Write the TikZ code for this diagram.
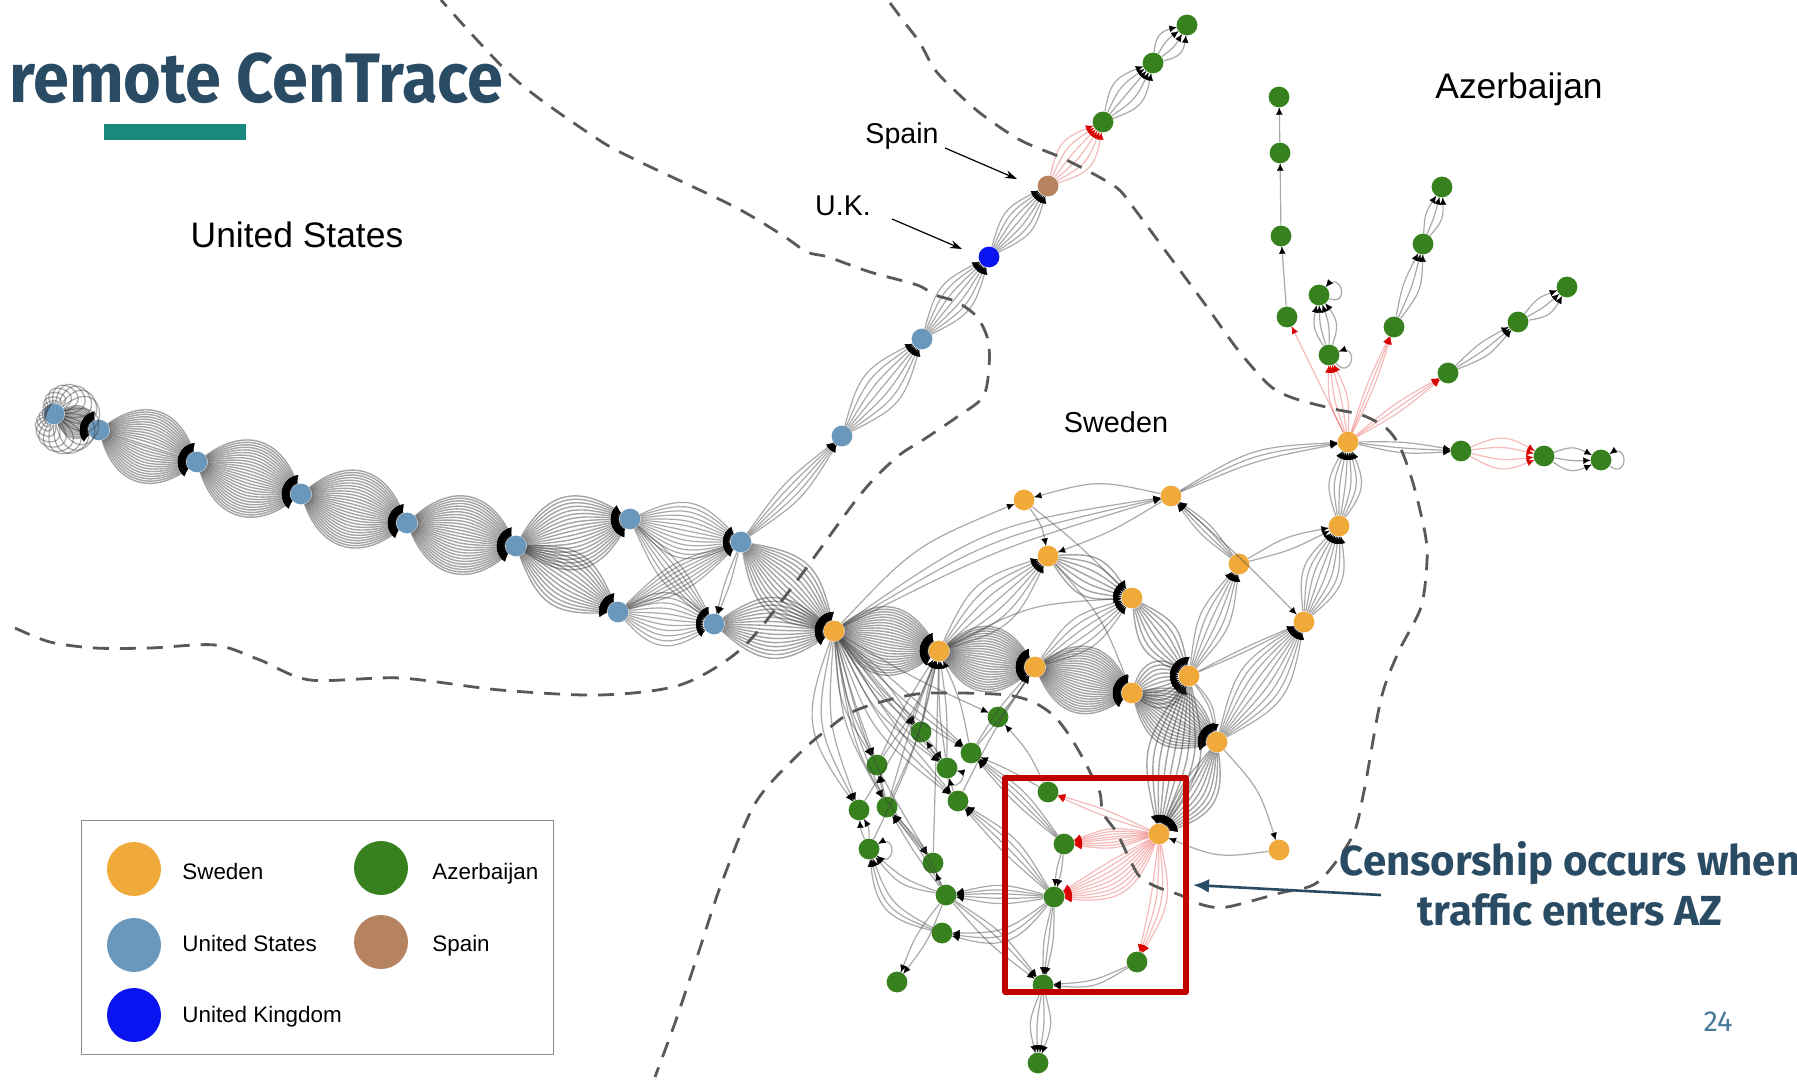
\documentclass[tikz,border=0pt]{standalone}
\usepackage{fontspec}
\usepackage{tikz}
\usetikzlibrary{arrows.meta}
\setmainfont{Liberation Sans}
\newfontfamily\slidefont[FakeStretch=0.925]{Fira Sans}
\newfontfamily\calloutfont{Fira Sans}
\definecolor{slideblue}{HTML}{2A4B64}
\definecolor{slideteal}{HTML}{1A8A7E}
\definecolor{boxred}{HTML}{C00000}
\definecolor{swecol}{HTML}{F0A93B}
\definecolor{usacol}{HTML}{6A97BC}
\definecolor{azecol}{HTML}{37821F}
\definecolor{ukncol}{HTML}{0A14F0}
\definecolor{espcol}{HTML}{B5835F}
\definecolor{pagecol}{HTML}{4A7A9A}
\tikzset{
	vertex/.style={circle,inner sep=0pt,minimum size=10.4pt},
	swe/.style={vertex,fill=swecol},
	usa/.style={vertex,fill=usacol},
	aze/.style={vertex,fill=azecol},
	ukn/.style={vertex,fill=ukncol},
	esp/.style={vertex,fill=espcol},
	gray edge/.style={draw=black!75,opacity=.45,line width=.6pt,looseness=1.3},
	dense edge/.style={draw=black!85,opacity=.42,line width=.7pt,looseness=1.3},
	red edge/.style={draw=red!85!black,opacity=.27,line width=.6pt,looseness=1.3},
	gray tip/.style={draw=black,line width=.1pt,dash pattern=on 0pt off 2000pt,looseness=1.3,-{Latex[length=3.5pt,width=3.2pt]}},
	dense tip/.style={draw=black,line width=.1pt,dash pattern=on 0pt off 2000pt,looseness=1.3,-{Latex[length=4pt,width=4pt]}},
	red tip/.style={draw=red!85!black,line width=.1pt,dash pattern=on 0pt off 2000pt,looseness=1.3,-{Latex[length=3.5pt,width=3.2pt]}},
	border/.style={draw=black!65,line width=1.4pt,dash pattern=on 8pt off 5.5pt},
	legendbox/.style={draw=black!45,line width=.5pt},
	legendtext/.style={anchor=base west,inner sep=0pt,font=\fontsize{11.2pt}{14pt}\selectfont},
	pointer/.style={draw=black,line width=.6pt,-{Stealth[length=6pt,width=4pt]}}
}
\newcommand{\bundle}[4][gray]{%
	\foreach \b in {#4} {
		\draw[#1 edge] (#2) to[bend left=\b] (#3);
		\draw[#1 tip] (#2) to[bend left=\b] (#3);
	}
}
\newcommand{\selfloop}[3]{%
	\draw[gray edge] (#1) .. controls +(#2-35:#3pt) and +(#2+35:#3pt) .. (#1);
	\draw[gray tip] (#1) .. controls +(#2-35:#3pt) and +(#2+35:#3pt) .. (#1);
}
\begin{document}
\begin{tikzpicture}[x=.5pt,y=-.5pt]

	\useasboundingbox (0,0) rectangle (1797,1080);

	\node[usa] (u1) at (54,414) {};
	\node[usa] (u2) at (99,430) {};
	\node[usa] (u3) at (197,462) {};
	\node[usa] (u4) at (301,494) {};
	\node[usa] (u5) at (407,523) {};
	\node[usa] (u6) at (516,546) {};
	\node[usa] (u7) at (630,519) {};
	\node[usa] (u8) at (618,612) {};
	\node[usa] (u9) at (741,542) {};
	\node[usa] (u10) at (714,624) {};
	\node[usa] (u11) at (842,436) {};
	\node[usa] (u12) at (922,339) {};
	\node[ukn] (uk) at (989,257) {};
	\node[esp] (es) at (1048,186) {};
	\node[aze] (g1) at (1103,122) {};
	\node[aze] (g2) at (1153,63) {};
	\node[aze] (g3) at (1187,25) {};

	\node[swe] (s1) at (834,631) {};
	\node[swe] (s2) at (939,651) {};
	\node[swe] (s3) at (1035,667) {};
	\node[swe] (s4) at (1132,693) {};
	\node[swe] (s5) at (1189,676) {};
	\node[swe] (s6) at (1217,742) {};
	\node[swe] (s7) at (1159,834) {};
	\node[swe] (s8) at (1279,850) {};
	\node[swe] (s9) at (1024,500) {};
	\node[swe] (s10) at (1171,496) {};
	\node[swe] (s11) at (1048,556) {};
	\node[swe] (s12) at (1132,598) {};
	\node[swe] (s13) at (1239,564) {};
	\node[swe] (s14) at (1304,622) {};
	\node[swe] (s15) at (1339,526) {};
	\node[swe] (s16) at (1348,442) {};

	\node[aze] (a1) at (1279,97) {};
	\node[aze] (a2) at (1280,153) {};
	\node[aze] (a3) at (1281,236) {};
	\node[aze] (a4) at (1287,317) {};
	\node[aze] (a5) at (1319,295) {};
	\node[aze] (a6) at (1329,355) {};
	\node[aze] (a7) at (1394,327) {};
	\node[aze] (a8) at (1423,244) {};
	\node[aze] (a9) at (1442,187) {};
	\node[aze] (a10) at (1448,373) {};
	\node[aze] (a11) at (1518,322) {};
	\node[aze] (a12) at (1567,287) {};
	\node[aze] (a13) at (1461,451) {};
	\node[aze] (a14) at (1544,456) {};
	\node[aze] (a15) at (1601,460) {};

	\node[aze] (b1) at (998,717) {};
	\node[aze] (b2) at (921,732) {};
	\node[aze] (b3) at (971,753) {};
	\node[aze] (b4) at (947,768) {};
	\node[aze] (b5) at (877,765) {};
	\node[aze] (b6) at (958,801) {};
	\node[aze] (b7) at (859,810) {};
	\node[aze] (b8) at (887,807) {};
	\node[aze] (b9) at (869,849) {};
	\node[aze] (b10) at (1048,792) {};
	\node[aze] (b11) at (1064,844) {};
	\node[aze] (b12) at (933,863) {};
	\node[aze] (b13) at (946,895) {};
	\node[aze] (b14) at (1054,897) {};
	\node[aze] (b15) at (942,933) {};
	\node[aze] (b16) at (897,982) {};
	\node[aze] (b17) at (1137,962) {};
	\node[aze] (b18) at (1043,985) {};
	\node[aze] (b19) at (1038,1063) {};

	\foreach \a in {0,14,...,346} {
		\pgfmathsetmacro\d{.87*(25+20*cos(\a+22))}
		\draw[gray edge] (u1) .. controls +(\a-40:\d pt) and +(\a+40:\d pt) .. (u1);
	}

	\bundle[dense]{u1}{u2}{-45,-40,...,45}
	\bundle[dense]{u2}{u3}{-55,-51,...,55}
	\bundle[dense]{u3}{u4}{-55,-51,...,55}
	\bundle[dense]{u4}{u5}{-55,-51,...,55}
	\bundle[dense]{u5}{u6}{-55,-51,...,55}
	\bundle[dense]{u6}{u7}{-48,-43,...,48}
	\bundle[dense]{u6}{u8}{-36,-31,...,36}
	\bundle{u7}{u9}{-36,-30,...,36}
	\bundle{u8}{u10}{-42,-34,...,42}
	\bundle{u7}{u10}{-14,-9,...,14}
	\bundle{u8}{u9}{-14,-10,...,14}
	\bundle{u9}{u10}{-4,4}
	\bundle[dense]{u9}{s1}{-36,-31,...,36}
	\bundle[dense]{u10}{s1}{-38,-33,...,38}
	\bundle{u9}{u11}{-12,-7,...,12}
	\bundle{u11}{u12}{-24,-16,...,24}
	\bundle{u12}{uk}{-24,-16,...,24}
	\bundle{uk}{es}{-24,-16,...,24}
	\bundle[red]{es}{g1}{-32,-20,...,32}
	\bundle{g1}{g2}{-30,-15,...,30}
	\bundle{g2}{g3}{-36,-12,12,36}

	\bundle[dense]{s1}{s2}{-48,-44,...,48}
	\bundle[dense]{s2}{s3}{-50,-46,...,50}
	\bundle[dense]{s3}{s4}{-50,-46,...,50}
	\bundle[dense]{s4}{s5}{-55,-45,...,55}
	\bundle[dense]{s4}{s6}{-44,-39,...,44}
	\bundle{s3}{s12}{-20,-12,...,20}
	\bundle{s2}{s11}{-24,-16,...,24}
	\bundle[dense]{s11}{s12}{-30,-20,...,30}
	\bundle[dense]{s12}{s5}{-30,-22,...,30}
	\bundle{s5}{s13}{-18,-11,...,18}
	\bundle{s5}{s14}{-2,2}
	\bundle{s5}{s6}{12,18}
	\bundle{s6}{s14}{-26,-20,...,26}
	\bundle{s14}{s15}{-30,-22,...,30}
	\bundle{s13}{s15}{-6,10}
	\bundle{s15}{s16}{-30,-21,...,30}
	\bundle[dense]{s5}{s7}{-24,-18,...,24}
	\bundle[dense]{s6}{s7}{-8,-2,...,40}
	\bundle{s6}{s8}{12}
	\bundle{s8}{s7}{15}
	\bundle{s1}{s9}{12}
	\bundle{s10}{s9}{-14}
	\bundle{s1}{s10}{5,9,13}
	\bundle{s9}{s11}{12}
	\bundle{s10}{s11}{5}
	\bundle{s9}{s12}{3}
	\bundle{s11}{s4}{10}
	\bundle{s2}{s12}{12}
	\bundle{s10}{s14}{2}
	\bundle{s13}{s10}{-10,-4,2,8}
	\bundle{s10}{s16}{6,10,14}

	\bundle[red]{s16}{a4}{0}
	\bundle[red]{s16}{a6}{-14,-4,6,14}
	\bundle[red]{s16}{a7}{-4,0,4}
	\bundle[red]{s16}{a10}{-5,0,5}
	\bundle{s16}{a13}{-8,-2,5}
	\bundle[red]{a13}{a14}{-26,-10,10,26}
	\bundle{a14}{a15}{-30,-6,24}
	\bundle{a6}{a5}{-28,-10,8,22}
	\bundle{a7}{a8}{-18,-5,8}
	\bundle{a8}{a9}{-22,-4,15}
	\bundle{a10}{a11}{-14,-4,8}
	\bundle{a11}{a12}{-26,-6,16}
	\bundle{a4}{a3}{0}
	\bundle{a3}{a2}{0}
	\bundle{a2}{a1}{0}
	\selfloop{a5}{15}{17}
	\selfloop{a6}{-15}{17}
	\selfloop{a15}{0}{17}
	\selfloop{b4}{-50}{14}
	\selfloop{b9}{-5}{17}

	\bundle{s1}{b7}{-28,-20,-12}
	\bundle{s1}{b5}{-14,-8,-2}
	\bundle{s1}{b8}{-12,-6}
	\bundle{s1}{b2}{-8,0,6}
	\bundle{s1}{b4}{-14,-8,-2}
	\bundle{s1}{b3}{-10,-4,2}
	\bundle{s1}{b6}{-16,-10,-4}
	\bundle{s1}{b12}{-14,-8}
	\bundle{s1}{b1}{-3}
	\bundle{b5}{s2}{-6,4}
	\bundle{b7}{s2}{-5}
	\bundle{b8}{s2}{-6,2}
	\bundle{b9}{s2}{-6}
	\bundle{b12}{s2}{0}
	\bundle{b4}{s2}{-4,4}
	\bundle{b3}{s2}{-6}
	\bundle{b2}{s2}{4}
	\bundle{b3}{s3}{-3,5}
	\bundle{b6}{s3}{3}
	\bundle{b1}{s3}{-4}
	\bundle{b10}{b1}{-8}
	\bundle{b4}{b2}{5}
	\bundle{b2}{b4}{5}
	\bundle{b6}{b4}{6}
	\bundle{b11}{b3}{-10,-5,0,5}
	\bundle{b10}{b3}{-3}
	\bundle{b14}{b6}{-14,-8,-2,4}
	\bundle{b8}{b5}{-4,4}
	\bundle{b13}{b8}{-10,-4,3}
	\bundle{b12}{b8}{0}
	\bundle{b13}{b12}{4}
	\bundle{b13}{b9}{10,20}
	\bundle{b15}{b9}{20,28,35}
	\bundle{b9}{b7}{-15,10}
	\bundle{b14}{b13}{-14,-8,-3,3,10}
	\bundle{b14}{b15}{18,26,34}
	\bundle{b13}{b16}{-8,8}
	\bundle{b13}{b18}{-6,4,10}
	\bundle{b11}{b14}{-6,6}
	\bundle{b14}{b18}{-7,0,7}
	\bundle{b17}{b18}{10,18}
	\bundle{b18}{b19}{-18,-6,6,18}
	\bundle[red]{s7}{b10}{-4,3}
	\bundle[red]{s7}{b11}{-15,-11,...,15}
	\bundle[red]{s7}{b14}{-2,3,...,38}
	\bundle[red]{s7}{b17}{3,9,15,21}

	\draw[border] plot[smooth,tension=.5] coordinates {(15,628) (50,642) (95,648) (150,648) (215,645) (260,660) (310,680) (400,678) (500,690) (600,695) (680,685) (740,650) (790,590) (860,495) (897,457) (923,440) (957,417) (983,397) (989,367) (988,340) (977,317) (957,302) (935,295) (917,285) (870,272) (828,257) (807,252) (782,235) (733,206) (636,160) (596,138) (516,80) (441,0)};
	\draw[border] plot[smooth,tension=.5] coordinates {(890,3) (905,23) (920,43) (933,67) (947,83) (980,113) (1020,140) (1060,157) (1090,172) (1117,188) (1130,203) (1170,257) (1207,307) (1238,350) (1269,385) (1293,398) (1334,409) (1362,415) (1386,428) (1400,447) (1413,483) (1425,533) (1427,561) (1421,607) (1398,653) (1381,699) (1364,791) (1352,837) (1318,882) (1280,893) (1227,907) (1203,905) (1180,895) (1157,887) (1140,877) (1130,860) (1117,833) (1103,813) (1100,793) (1090,772) (1080,753) (1067,732) (1053,715) (1033,702) (1007,695) (960,693) (917,694) (877,703) (850,713) (833,725) (802,751) (756,802) (722,882) (699,951) (676,1020) (655,1077)};

	\draw[boxred,line width=2.7pt,line join=round] (1005,778) rectangle (1186,992);

	\node[font=\fontsize{17.7pt}{20pt}\selectfont] (lus) at (297,235) {United States};
	\node[font=\fontsize{17.7pt}{20pt}\selectfont] (laz) at (1519,89) {Azerbaijan};
	\node[font=\fontsize{14.4pt}{17pt}\selectfont] (lsw) at (1116,422) {Sweden};
	\node[font=\fontsize{14.3pt}{17pt}\selectfont] (les) at (902,136) {Spain};
	\node[font=\fontsize{14.3pt}{17pt}\selectfont] (luk) at (843,206) {U.K.};

	\coordinate (spa) at (945,148);
	\coordinate (spb) at (1017,179);
	\coordinate (uka) at (892,219);
	\coordinate (ukb) at (962,249);
	\draw[pointer] (spa) -- (spb);
	\draw[pointer] (uka) -- (ukb);

	\node[anchor=west,inner sep=0pt,text=slideblue,font=\slidefont\bfseries\fontsize{35pt}{40pt}\selectfont] (title) at (9,78) {remote CenTrace};
	\fill[slideteal] (104,124) rectangle (246,140);

	\node[align=center,inner sep=0pt,text=slideblue,font=\calloutfont\bfseries\fontsize{21pt}{25pt}\selectfont] (censor) at (1570,884) {Censorship occurs when\\traffic enters AZ};
	\coordinate (cena) at (1381,895);
	\coordinate (cenb) at (1193,885);
	\draw[draw=slideblue,line width=1.3pt,-{Latex[length=8pt,width=7pt]}] (cena) -- (cenb);

	\node[text=pagecol,font=\calloutfont\fontsize{14.5pt}{17pt}\selectfont] (page) at (1718,1022) {24};

	\draw[legendbox] (81,820) rectangle (553,1054);
	\node[swe,minimum size=27pt] (k1) at (134,869) {};
	\node[usa,minimum size=27pt] (k2) at (134,945) {};
	\node[ukn,minimum size=27pt] (k3) at (134,1015) {};
	\node[aze,minimum size=27pt] (k4) at (381,868) {};
	\node[esp,minimum size=27pt] (k5) at (381,942) {};
	\node[legendtext] (t1) at (182,879) {Sweden};
	\node[legendtext] (t2) at (182,951) {United States};
	\node[legendtext] (t3) at (182,1022) {United Kingdom};
	\node[legendtext] (t4) at (432,879) {Azerbaijan};
	\node[legendtext] (t5) at (432,951) {Spain};

\end{tikzpicture}
\end{document}
